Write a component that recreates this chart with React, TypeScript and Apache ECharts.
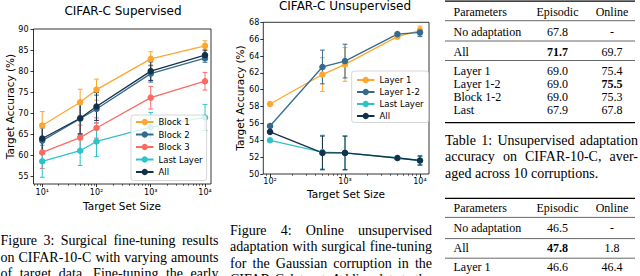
import React, { useEffect, useRef } from 'react';
import * as echarts from 'echarts';

// ---------- Figure 3 : CIFAR-C Supervised ----------
const supSizes = [10, 50, 100, 1000, 10000];
const supBlock1 = [67.1, 72.6, 75.6, 82.9, 86.0];
const supBlock1Err = [3.3, 3.1, 2.5, 1.7, 1.2];
const supBlock2 = [63.5, 68.7, 71.0, 79.4, 83.1];
const supBlock2Err = [3.0, 3.5, 3.3, 2.0, 1.0];
const supBlock3 = [60.7, 64.2, 66.5, 73.7, 77.6];
const supBlock3Err = [3.8, 3.0, 2.4, 2.7, 2.1];
const supLast = [58.6, 61.1, 63.3, 66.7, 69.0];
const supLastErr = [3.8, 3.5, 3.6, 3.5, 3.1];
const supAll = [64.0, 68.8, 71.6, 80.0, 83.8];
const supAllErr = [3.5, 3.8, 3.3, 2.2, 1.2];
const supYTicks = [55, 60, 65, 70, 75, 80, 85, 90];

// ---------- Figure 4 : CIFAR-C Unsupervised ----------
const unsSizes = [100, 500, 1000, 5000, 10000];
const unsLayer1 = [58.3, 61.8, 63.0, 66.3, 67.0];
const unsLayer1Err = [0.2, 2.0, 2.0, 0.15, 0.55];
const unsLayer12 = [55.7, 62.7, 63.4, 66.6, 66.8];
const unsLayer12Err = [0.2, 2.0, 2.0, 0.1, 0.5];
const unsLast = [54.0, 52.6, 52.5, 51.9, 51.6];
const unsLastErr = [0.1, 2.0, 2.0, 0.1, 0.5];
const unsAll = [55.0, 52.5, 52.5, 51.9, 51.6];
const unsAllErr = [0.1, 2.0, 2.0, 0.15, 0.55];
const unsYTicks = [50, 52, 54, 56, 58, 60, 62, 64, 66, 68];

const xMajorTicks = [10, 100, 1000, 10000];
const xMinorTicks = [7, 8, 9, 20, 30, 40, 50, 60, 70, 80, 90, 200, 300, 400, 500, 600, 700, 800, 900,
  2000, 3000, 4000, 5000, 6000, 7000, 8000, 9000];

// ---------- Tables ----------
const tableHeader = ['Parameters', 'Episodic', 'Online'];
const table1Rows = [
  ['No adaptation', '67.8', '-'],
  ['All', '71.7', '69.7'],
  ['Layer 1', '69.0', '75.4'],
  ['Layer 1-2', '69.0', '75.5'],
  ['Block 1-2', '69.0', '75.3'],
  ['Last', '67.9', '67.8'],
];
const table1Bold = ['1-1', '3-2'];
const table2Rows = [
  ['No adaptation', '46.5', '-'],
  ['All', '47.8', '1.8'],
  ['Layer 1', '46.6', '46.4'],
];
const table2Bold = ['1-1'];

// ---------- Captions ----------
const fig3Caption = [
  'Figure 3: Surgical fine-tuning results',
  'on CIFAR-10-C with varying amounts',
  'of target data. Fine-tuning the early',
];
const fig4Caption = [
  'Figure 4:  Online unsupervised',
  'adaptation with surgical fine-tuning',
  'for the Gaussian corruption in the',
  'CIFAR-C dataset. Adding data to the',
];
const tab1Caption = [
  'Table 1: Unsupervised adaptation',
  'accuracy on CIFAR-10-C, aver-',
  'aged across 10 corruptions.',
];

const C_ORANGE = '#ffa62e';
const C_BLUE = '#336b8f';
const C_RED = '#fa6c63';
const C_CYAN = '#2dc3c8';
const C_NAVY = '#14304a';

const SANS = 'DejaVu Sans';
const SERIF = 'Liberation Serif';
const SUP: Record<number, string> = { 1: '\u00b9', 2: '\u00b2', 3: '\u00b3', 4: '\u2074' };

function lineSeries(name: string, color: string, xs: number[], ys: number[], axis: number) {
  return {
    type: 'line', name, xAxisIndex: axis === 0 ? 0 : 2, yAxisIndex: axis,
    data: xs.map((x, i) => [x, ys[i]]),
    symbol: 'circle', symbolSize: 6.5, showSymbol: true,
    lineStyle: { color, width: 1.3 }, itemStyle: { color },
    silent: true, z: 3,
  };
}

function errSeries(name: string, color: string, xs: number[], ys: number[], es: number[], axis: number) {
  return {
    type: 'custom', name: name + ' (err)', xAxisIndex: axis === 0 ? 0 : 2, yAxisIndex: axis,
    data: xs.map((x, i) => [x, ys[i] - es[i], ys[i] + es[i]]),
    encode: { x: 0, y: [1, 2] },
    silent: true, z: 3,
    renderItem: (_p: any, api: any) => {
      const x = api.value(0);
      const lo = api.coord([x, api.value(1)]);
      const hi = api.coord([x, api.value(2)]);
      const c = 2.4;
      const st = { stroke: color, lineWidth: 1 };
      return {
        type: 'group',
        children: [
          { type: 'line', shape: { x1: lo[0], y1: lo[1], x2: hi[0], y2: hi[1] }, style: st },
          { type: 'line', shape: { x1: lo[0] - c, y1: lo[1], x2: lo[0] + c, y2: lo[1] }, style: st },
          { type: 'line', shape: { x1: hi[0] - c, y1: hi[1], x2: hi[0] + c, y2: hi[1] }, style: st },
        ],
      };
    },
  };
}

let measureCtx: CanvasRenderingContext2D | null = null;
function measure(text: string, font: string) {
  if (!measureCtx) measureCtx = document.createElement('canvas').getContext('2d');
  measureCtx!.font = font;
  return measureCtx!.measureText(text).width;
}

function paragraph(lines: string[], x0: number, x1: number, y0: number, lh: number, fs: number, lastJustified: boolean) {
  const out: any[] = [];
  const font = `${fs}px "${SERIF}"`;
  lines.forEach((line, li) => {
    const words = line.split(' ').filter(Boolean);
    const widths = words.map((w) => measure(w, font));
    const total = widths.reduce((a, b) => a + b, 0);
    const justify = li < lines.length - 1 || lastJustified;
    const gap = justify && words.length > 1 ? (x1 - x0 - total) / (words.length - 1) : measure(' ', font);
    let x = x0;
    words.forEach((w, i) => {
      out.push({
        type: 'text', x, y: y0 + li * lh, silent: true,
        style: { text: w, fontSize: fs, fontFamily: SERIF, fill: '#000', align: 'left', verticalAlign: 'middle' },
      });
      x += widths[i] + gap;
    });
  });
  return out;
}

function table(rows: string[][], bold: string[], rowYs: number[], headerY: number, rules: number[], thick: number[]) {
  const out: any[] = [];
  const colX = [453.5, 557.5, 612];
  const cell = (t: string, col: number, y: number, b: boolean) => ({
    type: 'text', x: colX[col], y, silent: true,
    style: {
      text: t, fontSize: 12, fontFamily: SERIF, fill: '#000', fontWeight: b ? 'bold' : 'normal',
      align: col === 0 ? 'left' : 'center', verticalAlign: 'middle',
    },
  });
  tableHeader.forEach((h, c) => out.push(cell(h, c, headerY, false)));
  rows.forEach((r, ri) => r.forEach((t, c) => out.push(cell(t, c, rowYs[ri], bold.includes(`${ri}-${c}`)))));
  rules.forEach((y) => out.push({ type: 'line', silent: true, shape: { x1: 445, y1: y, x2: 635, y2: y }, style: { stroke: '#000', lineWidth: 0.6 } }));
  thick.forEach((y) => out.push({ type: 'line', silent: true, shape: { x1: 445, y1: y, x2: 635, y2: y }, style: { stroke: '#000', lineWidth: 1.3 } }));
  return out;
}

function xAxes(gridIndex: number, min: number, max: number, margin: number) {
  return [
    {
      type: 'log', logBase: 10, gridIndex, min, max, position: 'bottom',
      axisLine: { show: false }, splitLine: { show: false },
      axisTick: { show: true, customValues: xMajorTicks, length: 3, lineStyle: { color: '#000', width: 0.8 } },
      axisLabel: {
        show: true, customValues: xMajorTicks, margin, fontSize: 8, fontFamily: SANS, color: '#000',
        formatter: (v: number) => '10' + SUP[Math.round(Math.log10(v))],
      },
    },
    {
      type: 'log', logBase: 10, gridIndex, min, max, position: 'bottom',
      axisLine: { show: false }, splitLine: { show: false }, axisLabel: { show: false },
      axisTick: { show: true, customValues: xMinorTicks, length: 1.8, lineStyle: { color: '#000', width: 0.6 } },
    },
  ];
}

function yAxis(gridIndex: number, min: number, max: number, ticks: number[], margin: number) {
  return {
    type: 'value', gridIndex, min, max,
    axisLine: { show: false }, splitLine: { show: false },
    axisTick: { show: true, customValues: ticks, length: 3, lineStyle: { color: '#000', width: 0.8 } },
    axisLabel: { show: true, customValues: ticks, margin, fontSize: 8, fontFamily: SANS, color: '#000' },
  };
}

function legend(names: string[], left: number, top: number, padding: number[], gap: number) {
  return {
    data: names, orient: 'vertical', left, top, padding, itemGap: gap,
    itemWidth: 17.5, itemHeight: 8, selectedMode: false,
    backgroundColor: 'rgba(255,255,255,0.8)', borderColor: '#cccccc', borderWidth: 0.8, borderRadius: 2.5,
    textStyle: { fontSize: 8.5, fontFamily: SANS, color: '#000', lineHeight: 10 },
  };
}

function buildOption() {
  const graphics: any[] = [
    { type: 'text', x: 123, y: 10.7, silent: true, style: { text: 'CIFAR-C Supervised', fontSize: 12, fontFamily: SANS, fill: '#000', align: 'center', verticalAlign: 'middle' } },
    { type: 'text', x: 345, y: 6.2, silent: true, style: { text: 'CIFAR-C Unsupervised', fontSize: 12, fontFamily: SANS, fill: '#000', align: 'center', verticalAlign: 'middle' } },
    { type: 'text', x: 122, y: 205.5, silent: true, style: { text: 'Target Set Size', fontSize: 10.5, fontFamily: SANS, fill: '#000', align: 'center', verticalAlign: 'middle' } },
    { type: 'text', x: 346, y: 194, silent: true, style: { text: 'Target Set Size', fontSize: 10.5, fontFamily: SANS, fill: '#000', align: 'center', verticalAlign: 'middle' } },
    { type: 'text', x: 9.5, y: 106.5, rotation: Math.PI / 2, silent: true, style: { text: 'Target Accuracy (%)', fontSize: 10.5, fontFamily: SANS, fill: '#000', align: 'center', verticalAlign: 'middle' } },
    { type: 'text', x: 240, y: 98, rotation: Math.PI / 2, silent: true, style: { text: 'Target Accuracy (%)', fontSize: 10.5, fontFamily: SANS, fill: '#000', align: 'center', verticalAlign: 'middle' } },
    ...paragraph(fig3Caption, 0.5, 218.5, 240.5, 16.5, 14, true),
    ...paragraph(fig4Caption, 230, 432, 230.5, 16.4, 14, true),
    ...paragraph(tab1Caption, 445, 638, 140.5, 16.4, 14, false),
    ...table(table1Rows, table1Bold, [31.7, 51.7, 70.7, 83.8, 96.9, 110], 11.7, [20.7, 41, 60.5], [1.2, 122.7]),
    ...table(table2Rows, table2Bold, [228.3, 248.3, 267.3], 208, [217.4, 238.6, 258.2], [198.3]),
  ];

  return {
    animation: false,
    backgroundColor: '#ffffff',
    grid: [
      { left: 33.5, top: 29, width: 177.5, height: 155, show: true, borderColor: '#000', borderWidth: 0.8, backgroundColor: 'transparent' },
      { left: 263.3, top: 22.3, width: 165.7, height: 151.7, show: true, borderColor: '#000', borderWidth: 0.8, backgroundColor: 'transparent' },
    ],
    xAxis: [...xAxes(0, 6.9, 12900, 4), ...xAxes(1, 81.3, 13200, 3.5)],
    yAxis: [yAxis(0, 53.2, 90, supYTicks, 5), yAxis(1, 50, 68, unsYTicks, 4)],
    legend: [
      legend(['Block 1', 'Block 2', 'Block 3', 'Last Layer', 'All'], 131, 115, [2, 4, 3.5, 4], 2.5),
      legend(['Layer 1', 'Layer 1-2', 'Last Layer', 'All'], 351.7, 71, [4, 5, 1.5, 4.3], 2),
    ],
    series: [
      lineSeries('Block 1', C_ORANGE, supSizes, supBlock1, 0), errSeries('Block 1', C_ORANGE, supSizes, supBlock1, supBlock1Err, 0),
      lineSeries('Block 2', C_BLUE, supSizes, supBlock2, 0), errSeries('Block 2', C_BLUE, supSizes, supBlock2, supBlock2Err, 0),
      lineSeries('Block 3', C_RED, supSizes, supBlock3, 0), errSeries('Block 3', C_RED, supSizes, supBlock3, supBlock3Err, 0),
      lineSeries('Last Layer', C_CYAN, supSizes, supLast, 0), errSeries('Last Layer', C_CYAN, supSizes, supLast, supLastErr, 0),
      lineSeries('All', C_NAVY, supSizes, supAll, 0), errSeries('All', C_NAVY, supSizes, supAll, supAllErr, 0),
      lineSeries('Layer 1', C_ORANGE, unsSizes, unsLayer1, 1), errSeries('Layer 1', C_ORANGE, unsSizes, unsLayer1, unsLayer1Err, 1),
      lineSeries('Layer 1-2', C_BLUE, unsSizes, unsLayer12, 1), errSeries('Layer 1-2', C_BLUE, unsSizes, unsLayer12, unsLayer12Err, 1),
      lineSeries('Last Layer', C_CYAN, unsSizes, unsLast, 1), errSeries('Last Layer', C_CYAN, unsSizes, unsLast, unsLastErr, 1),
      lineSeries('All', C_NAVY, unsSizes, unsAll, 1), errSeries('All', C_NAVY, unsSizes, unsAll, unsAllErr, 1),
    ],
    graphic: graphics,
  };
}

export default function App() {
  const ref = useRef<HTMLDivElement>(null);
  useEffect(() => {
    const el = ref.current!;
    const chart = echarts.init(el, null, { renderer: 'svg', width: 640, height: 276 });
    chart.setOption(buildOption() as any);
    return () => chart.dispose();
  }, []);
  return (
    <div
      ref={ref}
      style={{ position: 'absolute', left: 0, top: 0, width: 640, height: 276, background: '#fff', overflow: 'hidden' }}
    />
  );
}
